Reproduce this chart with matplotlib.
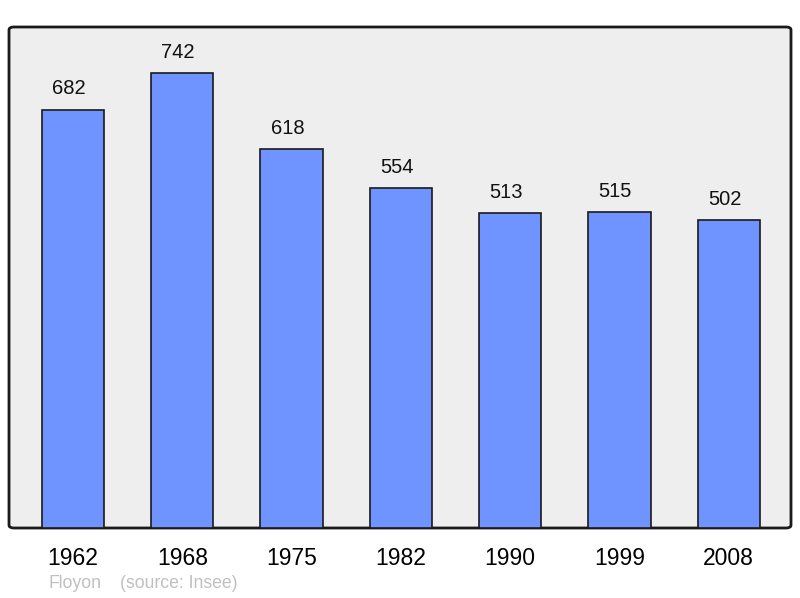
import matplotlib
matplotlib.use("Agg")
import matplotlib.pyplot as plt
from matplotlib.patches import FancyBboxPatch

years = ["1962", "1968", "1975", "1982", "1990", "1999", "2008"]
population = [682, 742, 618, 554, 513, 515, 502]
commune = "Floyon"
source = "(source: Insee)"

plt.rcParams['font.family'] = ['Liberation Sans', 'DejaVu Sans']

fig = plt.figure(figsize=(8, 5.98), dpi=100)
ax = fig.add_axes([9 / 800, 70 / 598, 782 / 800, 501 / 598])
ax.set_facecolor('none')

# rounded frame behind the bars
frame = FancyBboxPatch((0, 0), 1, 1,
                       boxstyle="round,pad=0,rounding_size=0.006",
                       transform=ax.transAxes, facecolor='#eeeeee',
                       edgecolor='#1a1a1a', linewidth=2, zorder=0,
                       clip_on=False)
ax.add_patch(frame)

x = range(len(years))
ax.bar(x, population, width=0.57, color='#7094ff',
       edgecolor='#1a1a1a', linewidth=1.2, zorder=2)

for xi, v in zip(x, population):
    ax.annotate(str(v), (xi, v), xytext=(-3, 15), textcoords='offset points',
                ha='center', va='center', fontsize=14.5, color='#111111')

ax.set_xlim(-0.586, 6.57)
ax.set_ylim(0, 817)
for s in ax.spines.values():
    s.set_visible(False)
ax.set_yticks([])
ax.set_xticks(list(x))
ax.set_xticklabels(years, fontsize=16.5)
ax.tick_params(axis='x', length=0, pad=13.5)

fig.text(49 / 800, 1 - 584 / 598, commune, fontsize=12.7, color='#c0c0c0',
         va='center', ha='left')
fig.text(120 / 800, 1 - 584 / 598, source, fontsize=12.7, color='#c0c0c0',
         va='center', ha='left')

fig.savefig("out.png", dpi=100)
